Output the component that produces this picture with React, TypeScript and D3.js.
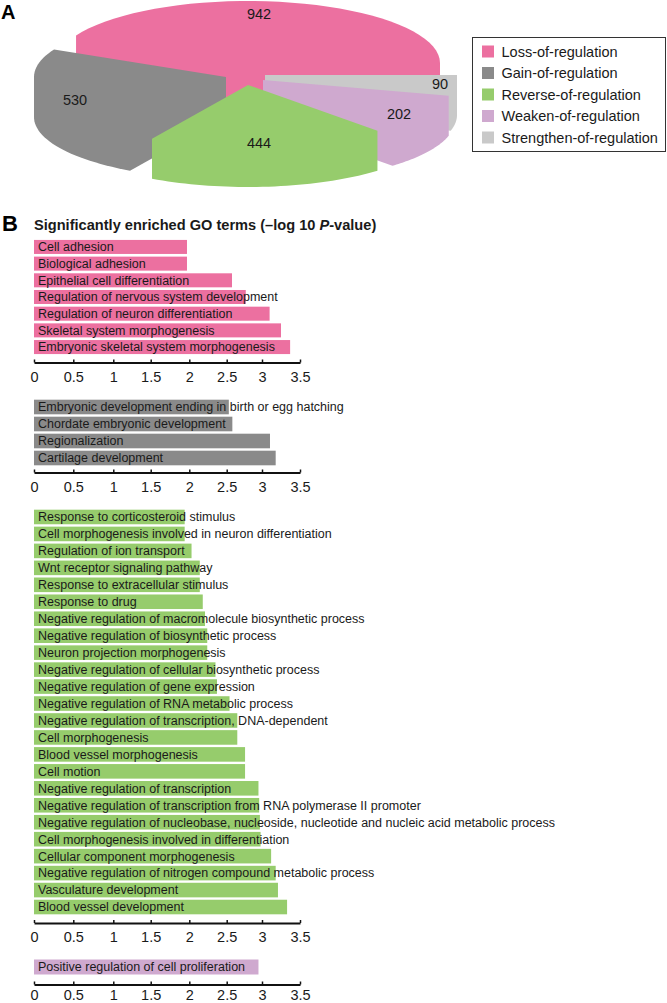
import React, { useEffect, useRef } from "react";
import * as d3 from "d3";

const sliceNames = [
  "Loss-of-regulation",
  "Gain-of-regulation",
  "Reverse-of-regulation",
  "Weaken-of-regulation",
  "Strengthen-of-regulation",
];
const sliceValues = [942, 530, 444, 202, 90];
const sliceColors = ["#ec70a0", "#8a8a8a", "#96cc6c", "#cfa9cf", "#c9c9c9"];

const lossTerms = [
  "Cell adhesion",
  "Biological adhesion",
  "Epithelial cell differentiation",
  "Regulation of nervous system development",
  "Regulation of neuron differentiation",
  "Skeletal system morphogenesis",
  "Embryonic skeletal system morphogenesis",
];
const lossValues = [1.97, 1.97, 2.575, 2.77, 3.1, 3.25, 3.37];

const gainTerms = [
  "Embryonic development ending in birth or egg hatching",
  "Chordate embryonic development",
  "Regionalization",
  "Cartilage development",
];
const gainValues = [2.53, 2.58, 3.105, 3.18];

const reverseTerms = [
  "Response to corticosteroid stimulus",
  "Cell morphogenesis involved in neuron differentiation",
  "Regulation of ion transport",
  "Wnt receptor signaling pathway",
  "Response to extracellular stimulus",
  "Response to drug",
  "Negative regulation of macromolecule biosynthetic process",
  "Negative regulation of biosynthetic process",
  "Neuron projection morphogenesis",
  "Negative regulation of cellular biosynthetic process",
  "Negative regulation of gene expression",
  "Negative regulation of RNA metabolic process",
  "Negative regulation of transcription, DNA-dependent",
  "Cell morphogenesis",
  "Blood vessel morphogenesis",
  "Cell motion",
  "Negative regulation of transcription",
  "Negative regulation of transcription from RNA polymerase II promoter",
  "Negative regulation of nucleobase, nucleoside, nucleotide and nucleic acid metabolic process",
  "Cell morphogenesis involved in differentiation",
  "Cellular component morphogenesis",
  "Negative regulation of nitrogen compound metabolic process",
  "Vasculature development",
  "Blood vessel development",
];
const reverseValues = [
  1.94, 1.94, 2.03, 2.14, 2.14, 2.18, 2.21, 2.24, 2.24, 2.35, 2.37, 2.54, 2.65,
  2.65, 2.76, 2.76, 2.95, 2.96, 2.97, 2.98, 3.12, 3.18, 3.21, 3.33,
];

const weakenTerms = ["Positive regulation of cell proliferation"];
const weakenValues = [2.95];

const axisTicks = [0, 0.5, 1, 1.5, 2, 2.5, 3, 3.5];
// the ticks in the figure are not quite evenly spaced
const axisPixels = [34, 73.3, 113.3, 150.7, 189.3, 226.7, 262, 300];

const FONT = "'Liberation Sans', Arial, sans-serif";

function App() {
  const ref = useRef<SVGSVGElement>(null);

  useEffect(() => {
    const svg = d3.select(ref.current);
    svg.selectAll("*").remove();
    svg.style("font-family", FONT);

    // --- panel A: exploded 3d pie ---
    const rx = 192;
    const ry = 62;
    const depth = 40;
    // apex of each slice after exploding
    const apex = [
      [248, 63],
      [226, 77],
      [248, 85],
      [263, 80],
      [265, 75],
    ];
    const labelPos = [
      [259, 14],
      [75, 100],
      [259, 143],
      [399, 114],
      [440, 84],
    ];

    const arcs = d3
      .pie<number>()
      .sort(null)
      .startAngle(Math.PI / 2)
      .endAngle(Math.PI / 2 - 2 * Math.PI)(sliceValues);

    const line = d3.line().curve(d3.curveLinearClosed);

    const slicePath = (i: number) => {
      const a = arcs[i];
      const [cx, cy] = apex[i];
      const steps = d3.range(41).map((k) => {
        const t = a.startAngle + ((a.endAngle - a.startAngle) * k) / 40;
        return [cx + rx * Math.sin(t), cy - ry * Math.cos(t)] as [number, number];
      });
      const top: [number, number][] = [[cx, cy], ...steps];
      const pts = [...top, ...top.map(([x, y]) => [x, y + depth] as [number, number])];
      return line(d3.polygonHull(pts) as [number, number][]);
    };

    const pie = svg.append("g");
    // back slices first
    [0, 4, 3, 1, 2].forEach((i) => {
      pie.append("path").attr("d", slicePath(i)).attr("fill", sliceColors[i]);
    });
    pie
      .selectAll("text")
      .data(sliceValues)
      .join("text")
      .attr("x", (_, i) => labelPos[i][0])
      .attr("y", (_, i) => labelPos[i][1])
      .attr("dy", "0.35em")
      .attr("text-anchor", "middle")
      .attr("font-size", 14.5)
      .attr("fill", "#1a1a1a")
      .text((d) => d);

    svg
      .append("text")
      .attr("x", 1)
      .attr("y", 18.5)
      .attr("font-size", 20)
      .attr("font-weight", "bold")
      .text("A");

    // legend
    const legend = svg.append("g");
    legend
      .append("rect")
      .attr("x", 472.5)
      .attr("y", 37.5)
      .attr("width", 193)
      .attr("height", 114)
      .attr("fill", "#fff")
      .attr("stroke", "#333")
      .attr("stroke-width", 1);
    const legendY = d3.scalePoint<string>().domain(sliceNames).range([51.5, 137.5]);
    const rows = legend
      .selectAll("g")
      .data(sliceNames)
      .join("g")
      .attr("transform", (d) => `translate(0,${legendY(d)})`);
    rows
      .append("rect")
      .attr("x", 482)
      .attr("y", -6)
      .attr("width", 12)
      .attr("height", 12)
      .attr("fill", (_, i) => sliceColors[i]);
    rows
      .append("text")
      .attr("x", 501.5)
      .attr("dy", "0.35em")
      .attr("font-size", 14.5)
      .attr("fill", "#1a1a1a")
      .text((d) => d);

    // --- panel B: bar groups ---
    svg
      .append("text")
      .attr("x", 2)
      .attr("y", 231)
      .attr("font-size", 22)
      .attr("font-weight", "bold")
      .text("B");

    const title = svg
      .append("text")
      .attr("x", 34)
      .attr("y", 230)
      .attr("font-size", 14.6)
      .attr("font-weight", "bold")
      .attr("fill", "#1a1a1a");
    title.append("tspan").text("Significantly enriched GO terms (\u2013log 10 ");
    title.append("tspan").attr("font-style", "italic").text("P");
    title.append("tspan").text("-value)");

    const x = d3.scaleLinear().domain(axisTicks).range(axisPixels);

    const drawGroup = (
      terms: string[],
      values: number[],
      color: string,
      bandRange: [number, number],
      axisY: number,
      inner: number,
      tickPad: number
    ) => {
      const y = d3
        .scaleBand<string>()
        .domain(terms)
        .range(bandRange)
        .paddingInner(inner)
        .paddingOuter(inner / 2);
      const g = svg.append("g");
      g.selectAll("rect")
        .data(terms)
        .join("rect")
        .attr("x", x(0))
        .attr("y", (d) => y(d)!)
        .attr("width", (_, i) => x(values[i]) - x(0))
        .attr("height", y.bandwidth())
        .attr("fill", color);
      g.selectAll("text")
        .data(terms)
        .join("text")
        .attr("x", 38)
        .attr("y", (d) => y(d)! + y.bandwidth() / 2)
        .attr("dy", "0.35em")
        .attr("font-size", 12.5)
        .attr("fill", "#1a1a1a")
        .text((d) => d);

      const axis = svg
        .append("g")
        .attr("transform", `translate(0,${axisY})`)
        .call(
          d3
            .axisBottom(x)
            .tickValues(axisTicks)
            .tickFormat((d) => String(d))
            .tickSizeInner(-3)
            .tickSizeOuter(0)
            .tickPadding(tickPad)
        );
      axis.select(".domain").attr("stroke", "#111").attr("stroke-width", 2.2);
      axis.selectAll(".tick line").attr("stroke", "#111").attr("stroke-width", 1.5);
      axis
        .selectAll(".tick text")
        .attr("font-size", 14.5)
        .attr("font-family", FONT)
        .attr("fill", "#1a1a1a");
    };

    drawGroup(lossTerms, lossValues, sliceColors[0], [238.6, 355.4], 362.5, 0.16, 9);
    drawGroup(gainTerms, gainValues, sliceColors[1], [398.5, 466.5], 472.5, 0.14, 9);
    drawGroup(reverseTerms, reverseValues, sliceColors[2], [508.5, 915.5], 923, 0.14, 8.5);
    // last axis sits right at the bottom of the page
    drawGroup(weakenTerms, weakenValues, sliceColors[3], [959.5, 974.5], 984.5, 0, 5);
  }, []);

  return (
    <svg
      ref={ref}
      width={667}
      height={1003}
      style={{ position: "absolute", left: 0, top: 0, background: "#fff" }}
    />
  );
}

export default App;
